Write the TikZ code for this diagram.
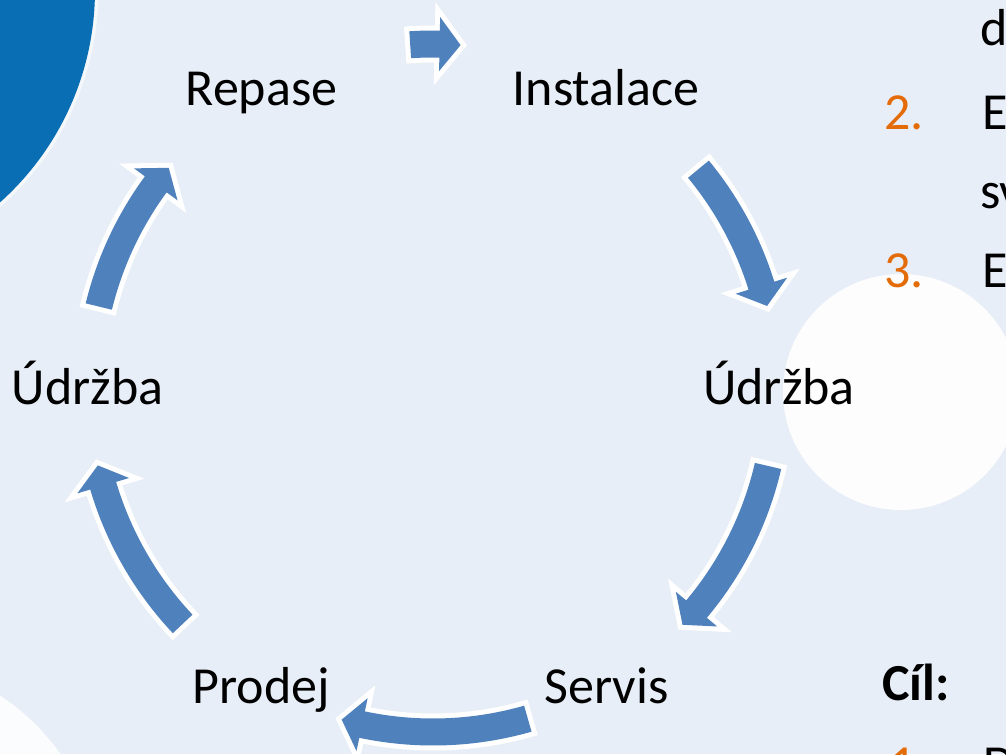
\documentclass[tikz,border=0pt]{standalone}
\usepackage{fontspec}
\setmainfont{Carlito}

\definecolor{slidebg}{HTML}{E8EEF7}
\definecolor{cornerblue}{HTML}{0A6EB4}
\definecolor{arrowblue}{HTML}{4F81BD}
\definecolor{numorange}{HTML}{E36C09}

% curved block arrow on the cycle: #1 tail angle, #2 tip angle (clockwise)
\newcommand{\cyclearrow}[2]{%
  \pgfmathsetmacro{\headang}{#2+3.5}
  \fill[cyclearrowstyle]
    (#1:357.5) arc[start angle=#1, end angle=\headang, radius=357.5]
    -- (\headang:371) -- (#2:344) -- (\headang:317)
    -- (\headang:330.5) arc[start angle=\headang, end angle=#1, radius=330.5]
    -- cycle;
}

\begin{document}
\begin{tikzpicture}[x=0.02cm,y=0.02cm]

		% Define styles
		\tikzstyle{phase} = [
		font=\fontsize{29.6pt}{35pt}\selectfont,
		inner sep=0pt, anchor=base]
		\tikzstyle{listtext} = [
		font=\fontsize{29.6pt}{35pt}\selectfont,
		inner sep=0pt, anchor=base west]
		\tikzstyle{listnum} = [listtext, text=numorange]
		\tikzstyle{cyclearrowstyle} = [
		fill=arrowblue,
		preaction={draw=white, fill=white, line width=0.2cm, line join=miter}]

		\useasboundingbox (0,0) rectangle (1006,754);

		% Slide background
		\begin{scope}
			\clip (0,0) rectangle (1006,754);
			\fill[slidebg] (0,0) rectangle (1006,754);
			\draw[white, opacity=0.6, line width=0.14cm] (-190,764) circle (285);
			\fill[cornerblue] (-190,764) circle (285);
			\fill[white, opacity=0.92] (901,362) circle (118);
			\fill[white, opacity=0.85] (-120,-126) circle (220);

			% Text on the right
			\node (line1b) [listtext] at (980,708) {d};
			\node (num2) [listnum] at (884,624) {2.};
			\node (item2) [listtext] at (982,624) {E};
			\node (item2b) [listtext] at (980,545) {sv};
			\node (num3) [listnum] at (884,466) {3.};
			\node (item3) [listtext] at (982,466) {E};
			\node (goal) [listtext, font=\fontsize{29.6pt}{35pt}\selectfont\bfseries] at (882,54) {Cíl:};
			\node (goalnum) [listnum] at (889,-27) {1.};
			\node (goalitem) [listtext] at (983,-27) {D};
		\end{scope}

		% Nodes
		\coordinate (hub) at (433,366);
		\node (repase) [phase] at (261.5,648) {Repase};
		\node (instalace) [phase] at (606,648) {Instalace};
		\node (udrzbaR) [phase] at (779,349) {Údržba};
		\node (servis) [phase] at (606.5,51) {Servis};
		\node (prodej) [phase] at (261,51) {Prodej};
		\node (udrzbaL) [phase] at (87.5,349) {Údržba};

		% Arrows
		\begin{scope}[shift={(hub)}]
			\cyclearrow{93.8}{85.4}
			\cyclearrow{39.5}{13.8}
			\cyclearrow{-13.1}{-43.5}
			\cyclearrow{-74}{-105.4}
			\cyclearrow{-136.7}{-167}
			\cyclearrow{166.3}{140.2}
		\end{scope}
	\end{tikzpicture}
\end{document}
